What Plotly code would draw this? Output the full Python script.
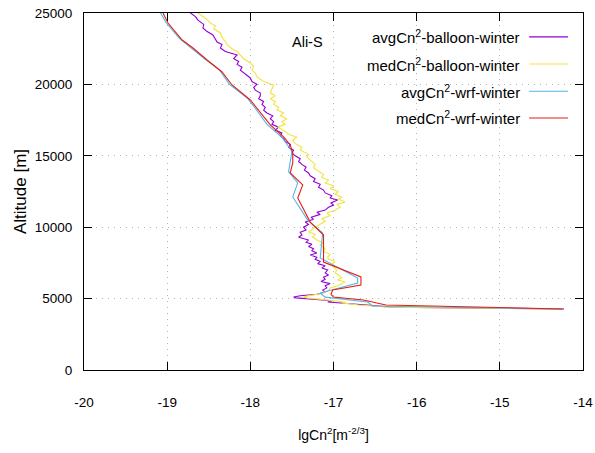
import plotly.graph_objects as go

# ---------------- data ----------------
avg_balloon_alt = [4280, 4400, 4550, 4700, 4760, 4850, 4950, 5050, 5110, 5200, 5300, 5450, 5600, 5750, 5900, 6050,
                   6200, 6350, 6500, 6650, 6800, 7000, 7150, 7300, 7450, 7600, 7750, 7900, 8050, 8200, 8350, 8500,
                   8650, 8800, 8950, 9100, 9300, 9450, 9650, 9800, 10000, 10200, 10360, 10550, 10700, 10900, 11050,
                   11200, 11400, 11550, 11700, 11900, 12050, 12200, 12400, 12600, 12800, 13000, 13200, 13400, 13600,
                   13800, 14000, 14200, 14400, 14600, 14800, 15000, 15200, 15400, 15600, 15800, 16000, 16200, 16400,
                   16600, 16800, 17000, 17200, 17400, 17600, 17800, 18000, 18200, 18400, 18600, 18800, 19000, 19200,
                   19400, 19600, 19800, 20000, 20200, 20450, 20700, 21000, 21200, 21400, 21600, 21800, 22060, 22300,
                   22550, 22800, 22970, 23200, 23460, 23700, 23950, 24200, 24500, 24750, 25000]
avg_balloon_cn2 = [-14.25, -16.30, -16.60, -17.00, -17.07, -17.02, -17.30, -17.45, -17.48, -17.40, -17.20, -17.10,
                   -17.13, -17.08, -17.10, -17.04, -17.15, -17.10, -17.12, -17.06, -17.10, -17.07, -17.14, -17.10,
                   -17.19, -17.16, -17.22, -17.20, -17.28, -17.20, -17.26, -17.24, -17.30, -17.26, -17.33, -17.30,
                   -17.42, -17.38, -17.40, -17.33, -17.36, -17.30, -17.34, -17.24, -17.27, -17.16, -17.20, -17.10,
                   -17.06, -17.00, -17.03, -16.95, -17.04, -17.02, -17.10, -17.12, -17.18, -17.16, -17.24, -17.22,
                   -17.28, -17.30, -17.35, -17.33, -17.38, -17.42, -17.40, -17.46, -17.50, -17.48, -17.54, -17.52,
                   -17.58, -17.60, -17.64, -17.62, -17.70, -17.66, -17.74, -17.72, -17.76, -17.73, -17.80, -17.84,
                   -17.82, -17.86, -17.84, -17.90, -17.88, -17.88, -17.94, -17.96, -17.92, -17.98, -18.00, -18.06,
                   -18.12, -18.10, -18.16, -18.14, -18.20, -18.16, -18.30, -18.36, -18.34, -18.40, -18.42, -18.45,
                   -18.52, -18.57, -18.56, -18.63, -18.66, -18.72]

med_balloon_alt = [4280, 4400, 4550, 4700, 4760, 4850, 4950, 5050, 5110, 5200, 5350, 5500, 5650, 5750, 5900, 6050,
                   6160, 6300, 6450, 6650, 6800, 7000, 7210, 7400, 7600, 7750, 7910, 8100, 8300, 8500, 8750, 8900,
                   9100, 9310, 9500, 9660, 9850, 10000, 10200, 10400, 10600, 10800, 11000, 11200, 11400, 11600,
                   11770, 11950, 12100, 12300, 12500, 12700, 12900, 13100, 13300, 13500, 13700, 13900, 14150, 14400,
                   14700, 14900, 15100, 15400, 15600, 15850, 16100, 16300, 16500, 16700, 17020, 17200, 17400, 17600,
                   17800, 18000, 18200, 18400, 18600, 18800, 19000, 19200, 19400, 19700, 19960, 20200, 20520, 20800,
                   21000, 21250, 21500, 21800, 22060, 22300, 22500, 22760, 23000, 23300, 23600, 23900, 24100, 24300,
                   24550, 24800, 25000]
med_balloon_cn2 = [-14.25, -16.35, -16.70, -16.90, -16.86, -17.00, -17.20, -17.32, -17.36, -17.30, -17.15, -17.08,
                   -17.05, -17.04, -16.95, -16.90, -16.86, -16.95, -16.90, -16.94, -16.98, -16.96, -17.00, -17.02,
                   -16.98, -17.06, -17.07, -17.04, -17.12, -17.10, -17.16, -17.12, -17.20, -17.25, -17.22, -17.30,
                   -17.26, -17.22, -17.16, -17.10, -17.14, -17.04, -17.08, -16.98, -16.92, -16.96, -16.86, -16.94,
                   -16.90, -16.98, -16.94, -17.04, -17.00, -17.10, -17.06, -17.14, -17.12, -17.18, -17.24, -17.22,
                   -17.28, -17.32, -17.30, -17.40, -17.38, -17.46, -17.49, -17.44, -17.54, -17.58, -17.67, -17.58,
                   -17.62, -17.56, -17.64, -17.60, -17.68, -17.66, -17.72, -17.70, -17.76, -17.70, -17.76, -17.74,
                   -17.72, -17.84, -17.92, -17.94, -17.98, -17.96, -18.00, -18.08, -18.12, -18.16, -18.22, -18.28,
                   -18.30, -18.34, -18.36, -18.44, -18.42, -18.48, -18.52, -18.58, -18.63]

avg_wrf_alt = [4270, 4480, 4760, 4900, 5100, 5390, 6090, 6440, 7840, 9590, 10500, 12120, 13100, 13870, 14500,
               15300, 16300, 17200, 18400, 19000, 20000, 21000, 21800, 22600, 23200, 24300, 25000]
avg_wrf_cn2 = [-14.23, -16.53, -16.59, -16.80, -17.10, -17.16, -16.71, -16.71, -17.16, -17.13, -17.31, -17.49,
               -17.43, -17.54, -17.52, -17.50, -17.62, -17.80, -17.95, -18.03, -18.25, -18.37, -18.55, -18.72,
               -18.85, -19.01, -19.08]

med_wrf_alt = [4270, 4550, 4900, 5110, 5300, 5600, 5950, 6520, 7560, 9450, 10360, 12050, 12960, 13800, 14500,
               15200, 15760, 16320, 17160, 18350, 18910, 19960, 20870, 21710, 22550, 23110, 24300, 25000]
med_wrf_cn2 = [-14.23, -16.37, -16.64, -17.00, -17.03, -17.01, -16.67, -16.67, -17.12, -17.12, -17.28, -17.43,
               -17.37, -17.52, -17.49, -17.49, -17.52, -17.60, -17.76, -17.92, -18.00, -18.22, -18.34, -18.52,
               -18.69, -18.82, -18.99, -19.05]

series_names = ["avgCn<sup>2</sup>-balloon-winter", "medCn<sup>2</sup>-balloon-winter",
                "avgCn<sup>2</sup>-wrf-winter", "medCn<sup>2</sup>-wrf-winter"]
series_colors = ["#9400D3", "#F0E442", "#56B4E9", "#E51E10"]
x_ticks = [-20, -19, -18, -17, -16, -15, -14]
y_ticks = [0, 5000, 10000, 15000, 20000, 25000]

series = [(avg_balloon_cn2, avg_balloon_alt), (med_balloon_cn2, med_balloon_alt),
          (avg_wrf_cn2, avg_wrf_alt), (med_wrf_cn2, med_wrf_alt)]

FONT = "Liberation Sans, Arial, sans-serif"

fig = go.Figure()
for (xs, ys), name, col in zip(series, series_names, series_colors):
    fig.add_trace(go.Scatter(x=xs, y=ys, mode="lines", name=name,
                             line=dict(color=col, width=1.1), showlegend=False))

# legend (text right-aligned, sample line on the right, as in gnuplot)
row_y = [0.933, 0.857, 0.781, 0.706]
for name, col, yy in zip(series_names, series_colors, row_y):
    fig.add_annotation(xref="paper", yref="paper", x=0.878, y=yy, text=name, showarrow=False,
                       xanchor="right", yanchor="middle",
                       font=dict(family=FONT, size=15, color="black"))
    fig.add_shape(type="line", xref="paper", yref="paper", x0=0.892, x1=0.970, y0=yy, y1=yy,
                  line=dict(color=col, width=1.1))

fig.add_annotation(xref="paper", yref="paper", x=0.447, y=0.919, text="Ali-S", showarrow=False,
                   xanchor="center", yanchor="middle", font=dict(family=FONT, size=14.5, color="black"))

axis_common = dict(showline=True, linecolor="black", linewidth=1, mirror="allticks",
                   ticks="inside", ticklen=8, tickcolor="black", tickwidth=1,
                   showgrid=True, gridcolor="#b4b4b4", gridwidth=1, griddash="1px,5px",
                   zeroline=False, automargin=False,
                   tickfont=dict(family=FONT, size=13.5, color="black"))

fig.update_xaxes(range=[-20, -14], tickvals=x_ticks, ticktext=[str(v) for v in x_ticks],
                 ticklabelstandoff=20,
                 title=dict(text="lgCn<sup>2</sup>[m<sup>-2/3</sup>]",
                            font=dict(family=FONT, size=14, color="black"), standoff=20),
                 **axis_common)
fig.update_yaxes(range=[0, 25000], tickvals=y_ticks, ticktext=[str(v) for v in y_ticks],
                 ticklabelstandoff=8,
                 title=dict(text="Altitude [m]", font=dict(family=FONT, size=17, color="black"),
                            standoff=3),
                 **axis_common)

fig.update_layout(width=595, height=453, margin=dict(l=84, r=12, t=13, b=83),
                  paper_bgcolor="white", plot_bgcolor="white")

fig.write_html("out.html")
